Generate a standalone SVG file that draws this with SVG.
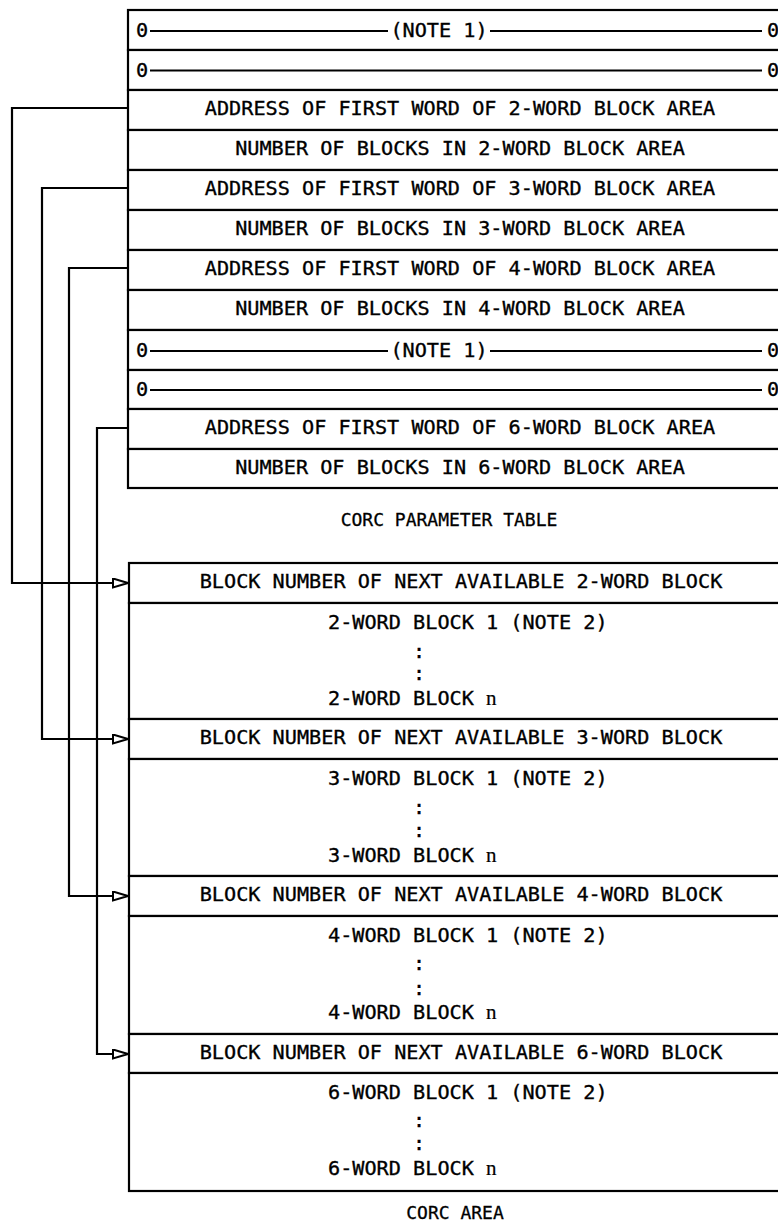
<svg xmlns="http://www.w3.org/2000/svg" width="778" height="1223" viewBox="0 0 778 1223">
<style>
  .box { fill: #fff; stroke: #000; stroke-width: 2.2; }
  .ln { stroke: #000; stroke-width: 2.2; fill: none; }
  .thin { stroke: #000; stroke-width: 1.8; fill: none; }
  .t { font-family: "DejaVu Sans Mono", "Liberation Mono", monospace; font-size: 20.2px; fill: #000; stroke: #000; stroke-width: 0.35; }
  .c { text-anchor: middle; }
  .cap { font-family: "DejaVu Sans Mono", "Liberation Mono", monospace; font-size: 18px; fill: #000; stroke: #000; stroke-width: 0.3; text-anchor: middle; }
  .n { font-family: "Liberation Serif", serif; font-size: 21px; stroke-width: 0.2; }
</style>
<defs>
  <marker id="arr" markerUnits="userSpaceOnUse" markerWidth="18" markerHeight="12" refX="16" refY="5" orient="auto">
    <path d="M1,0.5 L16,5 L1,9.5 Z" fill="#fff" stroke="#000" stroke-width="2"/>
  </marker>
</defs>

<!-- CORC PARAMETER TABLE -->
<g id="param-table">
  <g id="p1">
    <rect class="box" x="128" y="10" width="660" height="40"/>
    <text class="t c" x="142" y="37">0</text>
    <line class="thin" x1="150" y1="31" x2="388" y2="31"/>
    <text class="t c" x="439" y="37">(NOTE 1)</text>
    <line class="thin" x1="490" y1="31" x2="762" y2="31"/>
    <text class="t c" x="773" y="37">0</text>
  </g>
  <g id="p2">
    <rect class="box" x="128" y="50" width="660" height="40"/>
    <text class="t c" x="142" y="77">0</text>
    <line class="thin" x1="150" y1="70.5" x2="762" y2="70.5"/>
    <text class="t c" x="773" y="77">0</text>
  </g>
  <g id="p3">
    <rect class="box" x="128" y="90" width="660" height="40"/>
    <text class="t c" x="460" y="115">ADDRESS OF FIRST WORD OF 2-WORD BLOCK AREA</text>
  </g>
  <g id="p4">
    <rect class="box" x="128" y="130" width="660" height="40"/>
    <text class="t c" x="460" y="155">NUMBER OF BLOCKS IN 2-WORD BLOCK AREA</text>
  </g>
  <g id="p5">
    <rect class="box" x="128" y="170" width="660" height="40"/>
    <text class="t c" x="460" y="195">ADDRESS OF FIRST WORD OF 3-WORD BLOCK AREA</text>
  </g>
  <g id="p6">
    <rect class="box" x="128" y="210" width="660" height="40"/>
    <text class="t c" x="460" y="235">NUMBER OF BLOCKS IN 3-WORD BLOCK AREA</text>
  </g>
  <g id="p7">
    <rect class="box" x="128" y="250" width="660" height="40"/>
    <text class="t c" x="460" y="275">ADDRESS OF FIRST WORD OF 4-WORD BLOCK AREA</text>
  </g>
  <g id="p8">
    <rect class="box" x="128" y="290" width="660" height="40"/>
    <text class="t c" x="460" y="315">NUMBER OF BLOCKS IN 4-WORD BLOCK AREA</text>
  </g>
  <g id="p9">
    <rect class="box" x="128" y="330" width="660" height="40"/>
    <text class="t c" x="142" y="357">0</text>
    <line class="thin" x1="150" y1="351" x2="388" y2="351"/>
    <text class="t c" x="439" y="357">(NOTE 1)</text>
    <line class="thin" x1="490" y1="351" x2="762" y2="351"/>
    <text class="t c" x="773" y="357">0</text>
  </g>
  <g id="p10">
    <rect class="box" x="128" y="370" width="660" height="39"/>
    <text class="t c" x="142" y="396">0</text>
    <line class="thin" x1="150" y1="390" x2="762" y2="390"/>
    <text class="t c" x="773" y="396">0</text>
  </g>
  <g id="p11">
    <rect class="box" x="128" y="409" width="660" height="40"/>
    <text class="t c" x="460" y="434">ADDRESS OF FIRST WORD OF 6-WORD BLOCK AREA</text>
  </g>
  <g id="p12">
    <rect class="box" x="128" y="449" width="660" height="39"/>
    <text class="t c" x="460" y="474">NUMBER OF BLOCKS IN 6-WORD BLOCK AREA</text>
  </g>
  <text class="cap" x="449" y="526">CORC PARAMETER TABLE</text>
</g>

<!-- CORC AREA -->
<g id="corc-area">
  <g id="a2">
    <rect class="box" x="129" y="563" width="660" height="40"/>
    <text class="t c" x="461" y="588">BLOCK NUMBER OF NEXT AVAILABLE 2-WORD BLOCK</text>
    <rect class="box" x="129" y="603" width="660" height="116"/>
    <text class="t" x="328" y="629">2-WORD BLOCK 1 (NOTE 2)</text>
    <text class="t c" x="419" y="658">:</text>
    <text class="t c" x="419" y="680">:</text>
    <text class="t" x="328" y="705">2-WORD BLOCK <tspan class="n">n</tspan></text>
  </g>
  <g id="a3">
    <rect class="box" x="129" y="719" width="660" height="40"/>
    <text class="t c" x="461" y="744">BLOCK NUMBER OF NEXT AVAILABLE 3-WORD BLOCK</text>
    <rect class="box" x="129" y="759" width="660" height="117"/>
    <text class="t" x="328" y="785">3-WORD BLOCK 1 (NOTE 2)</text>
    <text class="t c" x="419" y="814">:</text>
    <text class="t c" x="419" y="837">:</text>
    <text class="t" x="328" y="862">3-WORD BLOCK <tspan class="n">n</tspan></text>
  </g>
  <g id="a4">
    <rect class="box" x="129" y="876" width="660" height="40"/>
    <text class="t c" x="461" y="901">BLOCK NUMBER OF NEXT AVAILABLE 4-WORD BLOCK</text>
    <rect class="box" x="129" y="916" width="660" height="118"/>
    <text class="t" x="328" y="942">4-WORD BLOCK 1 (NOTE 2)</text>
    <text class="t c" x="419" y="970">:</text>
    <text class="t c" x="419" y="995">:</text>
    <text class="t" x="328" y="1019">4-WORD BLOCK <tspan class="n">n</tspan></text>
  </g>
  <g id="a6">
    <rect class="box" x="129" y="1034" width="660" height="39"/>
    <text class="t c" x="461" y="1059">BLOCK NUMBER OF NEXT AVAILABLE 6-WORD BLOCK</text>
    <rect class="box" x="129" y="1073" width="660" height="118"/>
    <text class="t" x="328" y="1099">6-WORD BLOCK 1 (NOTE 2)</text>
    <text class="t c" x="419" y="1127">:</text>
    <text class="t c" x="419" y="1150">:</text>
    <text class="t" x="328" y="1175">6-WORD BLOCK <tspan class="n">n</tspan></text>
  </g>
  <text class="cap" x="455" y="1219">CORC AREA</text>
</g>

<!-- connectors -->
<g id="connectors">
  <polyline class="ln" points="128,108 12,108 12,583 128,583" marker-end="url(#arr)"/>
  <polyline class="ln" points="128,188 42,188 42,739 128,739" marker-end="url(#arr)"/>
  <polyline class="ln" points="128,268 69,268 69,896 128,896" marker-end="url(#arr)"/>
  <polyline class="ln" points="128,428 97,428 97,1054 128,1054" marker-end="url(#arr)"/>
</g>
</svg>
